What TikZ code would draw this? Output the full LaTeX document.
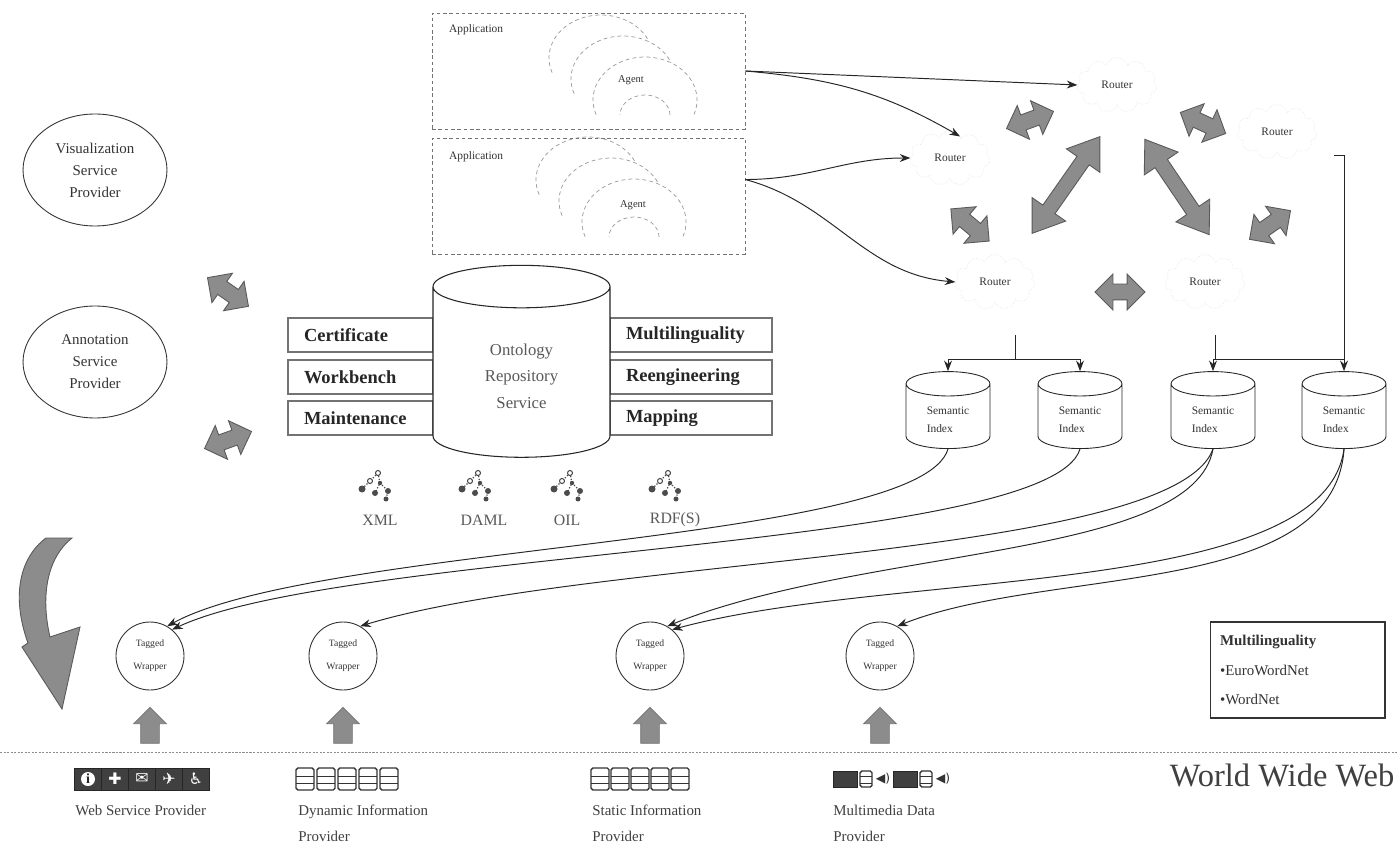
\documentclass[tikz,border=0pt]{standalone}
\usepackage{fontspec}
\setmainfont{Liberation Serif}
\newfontfamily\glyphfont{DejaVu Sans}
\usetikzlibrary{arrows.meta, positioning, shapes.geometric, shapes.symbols, shapes.arrows}

\begin{document}
\begin{tikzpicture}[
  x=0.02cm, y=0.02cm,
  >={Stealth[length=6pt, width=4.5pt]},
  every node/.style={font=\fontsize{7}{8}\selectfont, text=black!80},
  appbox/.style={draw=black!55, dash pattern=on 2pt off 1.6pt, minimum width=6.26cm, minimum height=2.32cm},
  agentline/.style={draw=black!40, dash pattern=on 2.2pt off 1.8pt},
  router/.style={cloud, cloud puffs=11, aspect=1.5, draw=black!10, densely dotted, minimum width=1.6cm, minimum height=1.1cm, inner sep=0pt, font=\fontsize{6.5}{7}\selectfont},
  link/.style={->, draw=black!85, line width=0.55pt},
  provider/.style={ellipse, draw=black!80, line width=0.5pt, minimum width=2.88cm, minimum height=2.24cm, align=center, inner sep=0pt, font=\fontsize{8.5}{12.5}\selectfont},
  opbox/.style={draw=black!55, line width=0.9pt, minimum height=0.68cm, inner xsep=0.32cm, align=left, font=\fontsize{10.5}{12}\selectfont\bfseries, text=black!85},
  repo/.style={cylinder, shape border rotate=90, shape aspect=0.5, draw=black!85, line width=0.6pt, fill=white, minimum width=3.54cm, minimum height=3.84cm, align=center, font=\fontsize{9.5}{15}\selectfont, text=black!65},
  index/.style={cylinder, shape border rotate=90, shape aspect=0.45, draw=black!85, line width=0.5pt, minimum width=1.68cm, minimum height=1.54cm, align=left, font=\fontsize{6.5}{10}\selectfont},
  wrapper/.style={circle, draw=black!80, line width=0.5pt, minimum size=1.36cm, inner sep=0pt, align=center, font=\fontsize{5.5}{13}\selectfont},
  dblarrow/.style={double arrow, draw=black!65, fill=black!45, line width=0.5pt, inner sep=0.15cm, minimum height=1cm, minimum width=0.7cm, double arrow head extend=0.2cm},
  bigarrow/.style={dblarrow, inner sep=0.14cm, minimum height=2.36cm, minimum width=0.8cm, double arrow head extend=0.26cm, double arrow tip angle=70},
  uparrow/.style={single arrow, draw=black!55, fill=black!45, inner sep=0.18cm, minimum height=0.72cm, minimum width=0.64cm, single arrow head extend=0.14cm, rotate=90},
  webicon/.style={draw=black!85, fill=black!75, text=white, minimum width=0.54cm, minimum height=0.44cm, inner sep=0pt, font=\glyphfont\fontsize{9}{9}\selectfont},
  dbicon/.style={draw=black!80, line width=0.8pt, rounded corners=1pt, minimum width=0.36cm, minimum height=0.44cm, inner sep=0pt,
    path picture={
      \draw[black!80, line width=0.7pt] ([yshift=1.5pt]path picture bounding box.west) -- ([yshift=1.5pt]path picture bounding box.east);
      \draw[black!80, line width=0.7pt] ([yshift=-2.5pt]path picture bounding box.west) -- ([yshift=-2.5pt]path picture bounding box.east);}},
  fmt/.style={font=\fontsize{9}{10}\selectfont, text=black!65},
  plabel/.style={anchor=north west, align=left, inner sep=0pt, font=\fontsize{8.5}{14.5}\selectfont, text=black!75},
  ontree/.pic={
    \draw[black!70, densely dotted, line width=0.7pt] (0,14) -- (-8,6) -- (-16,-2);
    \draw[black!70, densely dotted, line width=0.7pt] (0,14) -- (2,4) -- (-3,-6);
    \draw[black!70, densely dotted, line width=0.7pt] (2,4) -- (10,-4) -- (8,-12);
    \draw[black!70, line width=0.6pt, fill=white] (0,14) circle (2.5);
    \draw[black!70, line width=0.6pt, fill=white] (-8,6) circle (2.5);
    \fill[black!70] (-16,-2) circle (3.5);
    \fill[black!70] (2,4) circle (2.2);
    \fill[black!70] (-3,-6) circle (3);
    \fill[black!70] (10,-4) circle (3);
    \fill[black!70] (8,-12) circle (2.5);
  },
  agent/.pic={
    \fill[white] (200:52 and 43) arc[start angle=200, end angle=-20, x radius=52, y radius=43]
      -- (25,-15) arc[start angle=0, end angle=180, x radius=25, y radius=20] -- cycle;
    \draw[agentline] (200:52 and 43) arc[start angle=200, end angle=-20, x radius=52, y radius=43];
    \draw[agentline] (25,-15) arc[start angle=0, end angle=180, x radius=25, y radius=20];
  }
]

\useasboundingbox (0,0) rectangle (1398,849);
\fill[white] (0,0) rectangle (1398,849);

% Agents inside the applications
\pic at (601,791) {agent};
\pic at (623,770) {agent};
\pic at (645,749) {agent};
\pic at (588,669) {agent};
\pic at (611,648) {agent};
\pic at (634,627) {agent};

% Applications
\node[appbox] (ap1) at (588.5,778) {};
\node[appbox] (ap2) at (588.5,653) {};
\node[anchor=west, font=\fontsize{6.5}{7}\selectfont] (ap1l) at (443,819) {Application};
\node[anchor=west, font=\fontsize{6.5}{7}\selectfont] (ap2l) at (443,692) {Application};
\node[font=\fontsize{6}{7}\selectfont] (ag1) at (631,769) {Agent};
\node[font=\fontsize{6}{7}\selectfont] (ag2) at (633,644) {Agent};

% Routers
\node[router] (rt) at (1117,764) {Router};
\node[router] (rl) at (950,691) {Router};
\node[router] (rr) at (1277,717) {Router};
\node[router] (rbl) at (995,567) {Router};
\node[router] (rbr) at (1205,567) {Router};

% Applications to routers
\draw[link] (ap1.east) -- (rt.west);
\draw[link] (ap1.east) to[out=-5, in=150] (rl.65);
\draw[link] (ap2.6) to[out=0, in=180] (rl.west);
\draw[link] (ap2.6) to[out=-15, in=175] (rbl.west);

% Router links
\node[dblarrow, rotate=20] (ra) at (1030,729) {};
\node[dblarrow, rotate=-25] (rb) at (1203,726) {};
\node[dblarrow, rotate=-40] (rc) at (970,624) {};
\node[bigarrow, rotate=55] (rd) at (1066,664) {};
\node[bigarrow, rotate=-56, minimum height=2.3cm] (re) at (1177,662) {};
\node[dblarrow, rotate=35] (rf) at (1270,624) {};
\node[dblarrow] (rg) at (1120,557) {};

% Service providers
\node[provider] (vis) at (95,679) {Visualization\\Service\\Provider};
\node[provider] (ann) at (95,487) {Annotation\\Service\\Provider};
\node[dblarrow, rotate=-35] (va) at (228,557) {};
\node[dblarrow, rotate=20] (aa) at (228,409) {};

% Ontology repository
\node[opbox, text width=2.26cm] (cert) at (360.5,514) {Certificate};
\node[opbox, text width=2.26cm] (work) at (360.5,472) {Workbench};
\node[opbox, text width=2.26cm] (main) at (360.5,431) {Maintenance};
\node[opbox, text width=2.6cm] (mult) at (691,514) {Multilinguality};
\node[opbox, text width=2.6cm] (reen) at (691,472) {Reengineering};
\node[opbox, text width=2.6cm] (mapp) at (691,431) {Mapping};
\node[repo] (ors) at (521.5,473) {Ontology\\Repository\\Service};

% Formats
\pic at (378,362) {ontree};
\pic at (478,362) {ontree};
\pic at (570,362) {ontree};
\pic at (668,362) {ontree};
\node[fmt] (xml) at (380,329) {XML};
\node[fmt] (daml) at (484,329) {DAML};
\node[fmt] (oil) at (567,329) {OIL};
\node[fmt] (rdf) at (675,329) {RDF(S)};

% Semantic indices
\node[index] (si1) at (948,429.5) {Semantic\\Index};
\node[index] (si2) at (1080,429.5) {Semantic\\Index};
\node[index] (si3) at (1213,429.5) {Semantic\\Index};
\node[index] (si4) at (1344,429.5) {Semantic\\Index};

\coordinate (jl) at (1015,514);
\coordinate (jl2) at (1015,490);
\coordinate (jr) at (1215,514);
\coordinate (jr2) at (1215,490);
\coordinate (rrout) at (1334,694);
\draw[black!85, line width=0.55pt] (jl) -- (jl2);
\draw[link] (jl2) -| (si1.north);
\draw[link] (jl2) -| (si2.north);
\draw[black!85, line width=0.55pt] (jr) -- (jr2) -- (si4.north |- jr2);
\draw[link] (jr2) -| (si3.north);
\draw[link] (rrout) -| (si4.north);

% Tagged wrappers
\node[wrapper] (tw1) at (150,193) {Tagged\\Wrapper};
\node[wrapper] (tw2) at (343,193) {Tagged\\Wrapper};
\node[wrapper] (tw3) at (650,193) {Tagged\\Wrapper};
\node[wrapper] (tw4) at (880,193) {Tagged\\Wrapper};

% Indices to wrappers
\draw[link] (si1.south) .. controls +(-28,-95) and +(150,82) .. (tw1.60);
\draw[link] (si2.south) .. controls +(-30,-100) and +(170,80) .. (tw1.50);
\draw[link] (si3.south) .. controls +(-40,-110) and +(230,70) .. (tw2.60);
\draw[link] (si3.south) .. controls +(-20,-110) and +(200,80) .. (tw3.60);
\draw[link] (si4.south) .. controls +(-20,-150) and +(220,60) .. (tw3.50);
\draw[link] (si4.south) .. controls +(-10,-150) and +(150,60) .. (tw4.60);

% Curved arrow
\filldraw[fill=black!45, draw=black!65, line width=0.5pt] (46,311) -- (72,311)
  .. controls (48,292) and (40,255) .. (50,212) -- (80,222) -- (62,140) -- (22,202) -- (28,206)
  .. controls (12,250) and (18,290) .. (46,311) -- cycle;

% World Wide Web
\node[uparrow] (up1) at (150,119) {};
\node[uparrow] (up2) at (343,119) {};
\node[uparrow] (up3) at (650,119) {};
\node[uparrow] (up4) at (880,119) {};
\draw[black!45, dash pattern=on 1.2pt off 0.8pt] (0,97) -- (1398,97);
\node[font=\fontsize{18.5}{20}\selectfont, text=black!75] (www) at (1282,74) {World Wide Web};

% Provider icons
\foreach \k/\g in {0/{}, 1/✚, 2/✉, 3/✈, 4/♿}
  \node[webicon] (ws\k) at (88+27*\k,70) {\g};
\fill[white] (ws0.center) circle (7);
\node[text=black!85, font=\fontsize{8}{8}\selectfont\bfseries, inner sep=0pt] (wsi) at (ws0) {i};
\foreach \k in {0,...,4}
  \node[dbicon] (dy\k) at (305+21*\k,70) {};
\foreach \k in {0,...,4}
  \node[dbicon] (st\k) at (600+20*\k,70) {};
\foreach \k in {0,1} {
  \node[draw=black!85, fill=black!75, minimum width=0.48cm, minimum height=0.32cm, inner sep=0pt] (mms\k) at (845+60*\k,70) {};
  \node[dbicon, minimum width=0.24cm, minimum height=0.32cm] (mmg\k) at (866+60*\k,70) {};
  \node[font=\glyphfont\fontsize{7}{7}\selectfont, inner sep=0pt] (mmv\k) at (883+60*\k,70) {◀)};
}

% Provider labels
\node[plabel] (wsp) at (75,44) {Web Service Provider};
\node[plabel] (dip) at (298,44) {Dynamic Information\\Provider};
\node[plabel] (sip) at (592,44) {Static Information\\Provider};
\node[plabel] (mdp) at (833,44) {Multimedia Data\\Provider};

% Multilinguality resources
\node[draw=black!80, line width=0.6pt, minimum height=1.92cm, text width=3.1cm, inner xsep=0.2cm, align=left, font=\fontsize{8.5}{17}\selectfont] (mlbox) at (1297.5,179) {\textbf{Multilinguality}\\•EuroWordNet\\•WordNet};

\end{tikzpicture}
\end{document}
